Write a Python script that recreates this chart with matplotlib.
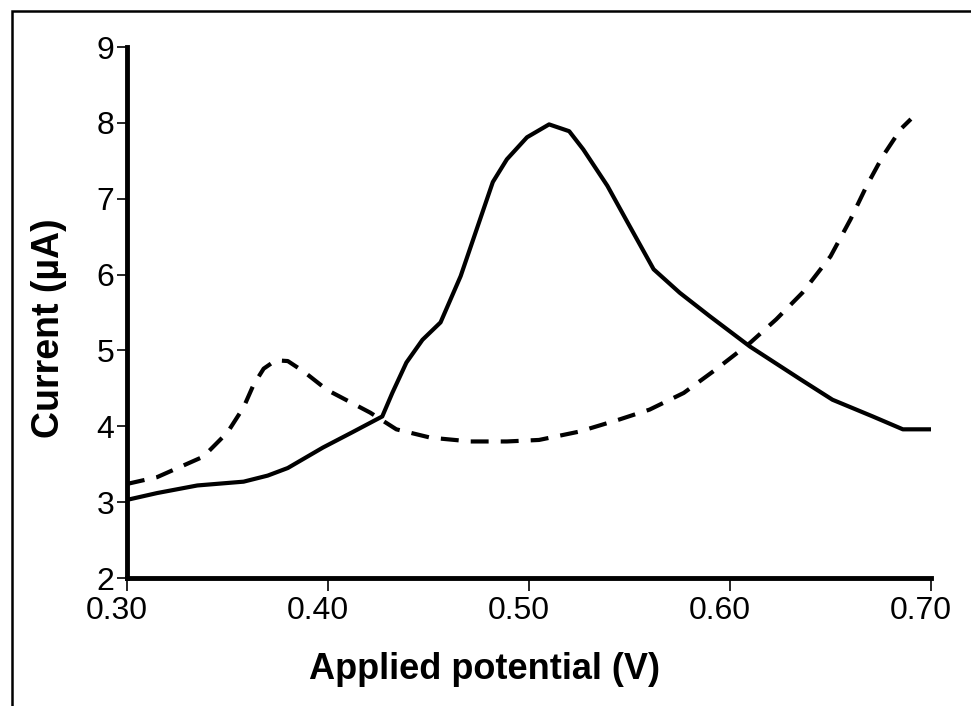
import matplotlib
matplotlib.use("Agg")
import matplotlib.pyplot as plt
import matplotlib.transforms as mtransforms
from matplotlib.patches import Rectangle

# solid trace (peak near 0.51 V)
solid_v = [0.300, 0.315, 0.335, 0.358, 0.370, 0.380, 0.3975, 0.412, 0.427,
           0.432, 0.439, 0.447, 0.456, 0.466, 0.474, 0.482, 0.489, 0.499,
           0.510, 0.520, 0.527, 0.539, 0.549, 0.562, 0.575, 0.590, 0.610,
           0.635, 0.651, 0.671, 0.686, 0.700]
solid_i = [3.03, 3.12, 3.22, 3.27, 3.35, 3.45, 3.72, 3.92, 4.13,
           4.44, 4.84, 5.14, 5.37, 5.98, 6.60, 7.22, 7.52, 7.81,
           7.98, 7.89, 7.65, 7.17, 6.69, 6.07, 5.76, 5.45, 5.05,
           4.62, 4.35, 4.13, 3.96, 3.96]

# dashed trace (peak near 0.375 V)
dash_v = [0.300, 0.315, 0.338, 0.350, 0.358, 0.363, 0.368, 0.374, 0.380,
          0.388, 0.3995, 0.421, 0.434, 0.451, 0.471, 0.489, 0.505, 0.525,
          0.545, 0.560, 0.577, 0.593, 0.610, 0.623, 0.636, 0.650, 0.660,
          0.668, 0.676, 0.685, 0.690]
dash_i = [3.24, 3.33, 3.60, 3.92, 4.25, 4.55, 4.76, 4.87, 4.86,
          4.72, 4.48, 4.18, 3.96, 3.85, 3.80, 3.80, 3.82, 3.93,
          4.09, 4.22, 4.44, 4.75, 5.10, 5.41, 5.76, 6.24, 6.73,
          7.17, 7.56, 7.92, 8.05]

x_ticks = [0.30, 0.40, 0.50, 0.60, 0.70]
x_tick_labels = ["0.30", "0.40", "0.50", "0.60", "0.70"]
y_ticks = [2, 3, 4, 5, 6, 7, 8, 9]

plt.rcParams["font.family"] = ["Liberation Sans", "DejaVu Sans"]

fig = plt.figure(figsize=(9.71, 7.06), dpi=100)
ax = fig.add_axes([0.1308, 0.1813, 0.8280, 0.7521])

ax.plot(solid_v, solid_i, color="black", lw=3.0, solid_joinstyle="round")
ax.plot(dash_v, dash_i, color="black", lw=3.0, dashes=(4.3, 2.9))

ax.set_xlim(0.30, 0.70)
ax.set_ylim(2, 9)
ax.set_xticks(x_ticks)
ax.set_xticklabels(x_tick_labels)
ax.set_yticks(y_ticks)

for side in ["top", "right"]:
    ax.spines[side].set_visible(False)
for side in ["left", "bottom"]:
    ax.spines[side].set_linewidth(3.5)

ax.tick_params(axis="both", direction="out", width=1.2, labelsize=23, colors="black")
ax.tick_params(axis="x", length=9, pad=4)
ax.tick_params(axis="y", length=7, pad=2)

# tick labels sit a bit left of their ticks in the original
shift = mtransforms.ScaledTranslation(-10 / 100, 0, fig.dpi_scale_trans)
for lbl in ax.get_xticklabels():
    lbl.set_transform(lbl.get_transform() + shift)

ax.set_xlabel("Applied potential (V)", fontsize=26, fontweight="bold")
ax.set_ylabel("Current (µA)", fontsize=27, fontweight="bold")
ax.xaxis.set_label_coords(0.445, -0.14)
ax.yaxis.set_label_coords(-0.075, 0.47)

# scanned frame round the figure (only top and left are visible)
frame = Rectangle((12 / 971, -0.05), 1.1, 0.05 + (706 - 11) / 706,
                  transform=fig.transFigure, fill=False, lw=1.8,
                  edgecolor="black", clip_on=False)
fig.patches.append(frame)

fig.savefig("out.png", dpi=100)
